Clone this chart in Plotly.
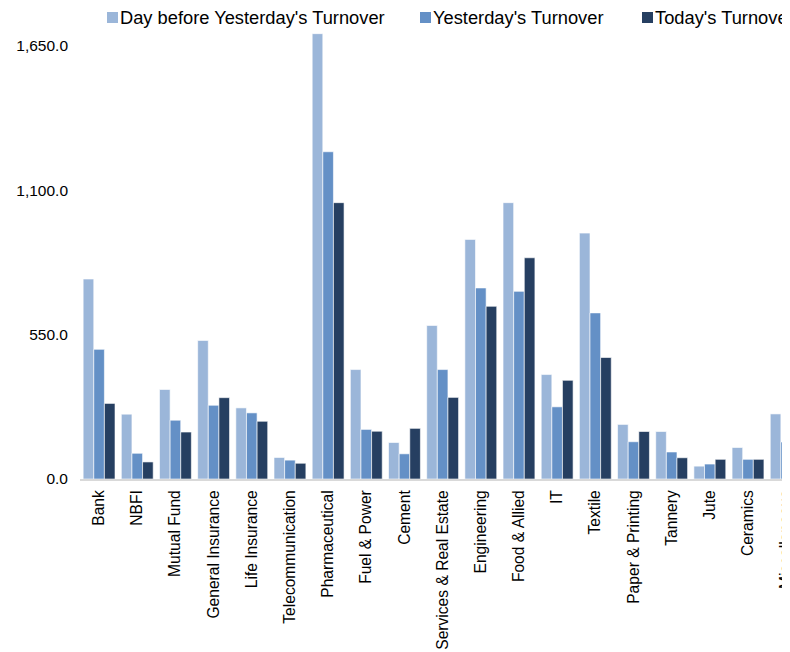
import plotly.graph_objects as go

categories = ["Bank", "NBFI", "Mutual Fund", "General Insurance", "Life Insurance",
              "Telecommunication", "Pharmaceutical", "Fuel & Power", "Cement",
              "Services & Real Estate", "Engineering", "Food & Allied", "IT", "Textile",
              "Paper & Printing", "Tannery", "Jute", "Ceramics", "Miscellaneous"]

day_before = [762, 247, 341, 528, 271, 82, 1697, 417, 139, 585, 913, 1053, 398, 937, 208, 181, 49, 120, 248]
yesterday = [494, 98, 224, 281, 252, 72, 1247, 189, 96, 417, 728, 715, 275, 633, 142, 103, 57, 75, 141]
today = [288, 65, 179, 310, 220, 60, 1053, 182, 193, 311, 658, 843, 376, 463, 181, 81, 75, 75, 120]

series_names = ["Day before Yesterday's Turnover", "Yesterday's Turnover", "Today's Turnover"]
colors = ["#9BB6D9", "#6490C6", "#263F61"]
tick_vals = [0, 550, 1100, 1650]
tick_text = ["0.0", "550.0", "1,100.0", "1,650.0"]

fig = go.Figure()
for name, vals, col in zip(series_names, [day_before, yesterday, today], colors):
    fig.add_trace(go.Bar(
        x=list(range(len(categories))), y=vals, name=name,
        marker=dict(color=col, line=dict(color="rgba(255,255,255,0.6)", width=1)),
        showlegend=False,
    ))

font_fam = "Liberation Sans, Arial, sans-serif"

# legend drawn manually (squares + text) to match the reference layout
leg_x = [107, 420, 642]
for lx, name, col in zip(leg_x, series_names, colors):
    fig.add_shape(type="rect", xref="paper", yref="paper",
                  x0=(lx - 80) / 710, x1=(lx + 11 - 80) / 710,
                  y0=(479 - 23) / 454, y1=(479 - 12) / 454,
                  fillcolor=col, line=dict(width=0))
    fig.add_annotation(xref="paper", yref="paper",
                       x=(lx + 11 - 80) / 710, y=(479 - 17.5) / 454,
                       xanchor="left", yanchor="middle", showarrow=False,
                       text=name, font=dict(family=font_fam, size=18.3, color="#000000"))

fig.update_layout(
    width=782, height=644,
    margin=dict(l=72, r=0, t=17, b=173),
    paper_bgcolor="white", plot_bgcolor="white",
    barmode="group", bargap=0.165, bargroupgap=0,
    font=dict(family=font_fam, color="#000000"),
    xaxis=dict(
        range=[-0.5, 18.1], automargin=False,
        tickmode="array", tickvals=list(range(len(categories))), ticktext=categories,
        tickangle=-90, tickfont=dict(size=15.6, color="#000000"),
        ticklabeloverflow="allow", ticklabelstandoff=3,
        showline=True, linecolor="#D9D9D9", linewidth=2,
        ticks="", showgrid=False, zeroline=False,
    ),
    yaxis=dict(
        range=[0, 1730], automargin=False,
        tickmode="array", tickvals=tick_vals, ticktext=tick_text,
        tickfont=dict(size=15.5, color="#000000"),
        showline=False, showgrid=False, zeroline=False, ticks="",
        ticklabelstandoff=11,
    ),
)

fig.write_html("out.html")
